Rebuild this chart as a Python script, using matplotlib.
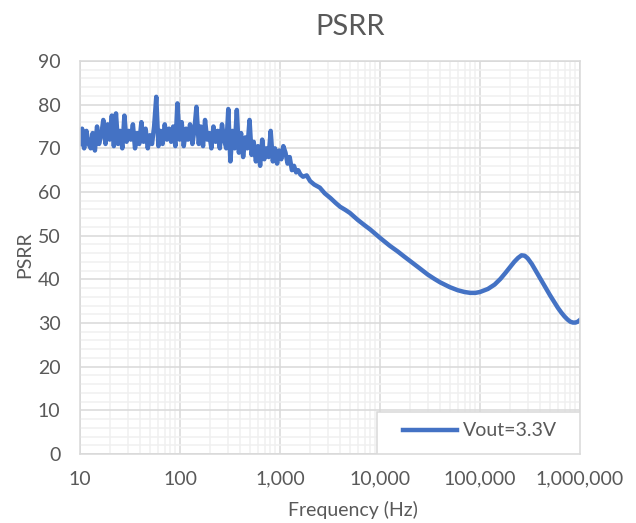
import matplotlib
matplotlib.use('Agg')
import matplotlib.pyplot as plt
from matplotlib import font_manager
from matplotlib.patches import Rectangle
from matplotlib.ticker import FixedLocator, MultipleLocator, FuncFormatter, NullFormatter

# data
freq_low = [10, 10.5, 11, 11.6, 12.2, 12.8, 13.4, 14.1, 14.8, 15.5, 16.3, 17.1, 18, 18.9, 19.8,
            20.8, 21.8, 22.9, 24, 25.2, 26.5, 27.8, 29.2, 30.7, 32.2, 33.8, 35.5, 37.3, 39.1,
            41.1, 43.2, 45.3, 47.6, 50, 52.5, 55.1, 57.9, 60.8, 63.8, 67, 70.4, 73.9, 77.6,
            81.5, 85.5, 89.8, 94.3, 99, 104, 109, 115, 120, 126, 133, 139, 146, 154, 161,
            170, 178, 187, 196, 206, 216, 227, 238, 250, 263, 276, 290, 304, 319, 335, 352,
            370, 388, 408, 428, 450, 472, 496, 520, 546, 574, 602, 633, 664, 697, 732, 769,
            807, 848, 890, 935, 981, 1030, 1080, 1135, 1190, 1250, 1315, 1380, 1450, 1520]
psrr_low = [71, 74.5, 70, 74, 71, 70, 73.5, 69.5, 75, 71, 73, 76.5, 71, 75.5, 72,
            77.5, 70.5, 78, 71, 74, 70, 77.5, 71.5, 74, 72, 75.5, 70, 73.5, 71,
            76, 71.5, 74.5, 70, 73, 71, 75, 81.8, 70.5, 74, 71, 75.5, 72, 74.5,
            71.5, 75, 70.5, 80.3, 72, 76, 70.5, 74.5, 72, 75.5, 71, 74, 79.5, 71, 75,
            70.5, 76.5, 72, 73.5, 70, 75, 71.5, 74, 70, 75.5, 72, 70, 79, 67, 74, 70,
            78.8, 69, 73.5, 68, 72.5, 70, 76.5, 68.5, 71.5, 67, 70.5, 66, 72, 67.5, 70, 68,
            74, 67, 70, 66.5, 69.5, 67.5, 70.5, 69, 66.5, 68, 65, 66, 64.5, 65]

freq_high = [1600, 1700, 1850, 2000, 2200, 2500, 2800, 3200, 3600, 4000, 4500, 5000, 6000,
             7000, 8000, 9000, 10000, 12500, 15000, 17500, 20000, 25000, 30000, 35000, 40000,
             50000, 60000, 70000, 80000, 90000, 100000, 120000, 140000, 160000, 180000,
             200000, 220000, 240000, 260000, 280000, 300000, 330000, 360000, 400000, 450000,
             500000, 550000, 600000, 650000, 700000, 750000, 800000, 850000, 900000, 950000,
             1000000]
psrr_high = [64, 63.5, 63.8, 62.5, 61.7, 61, 59.7, 58.6, 57.5, 56.6, 55.9, 55.2, 53.6,
             52.4, 51.4, 50.4, 49.5, 47.7, 46.4, 45.2, 44.2, 42.5, 41.1, 40.1, 39.3,
             38.2, 37.5, 37.1, 36.9, 36.9, 37.1, 37.8, 38.8, 40.1, 41.5,
             42.8, 44, 44.9, 45.5, 45.4, 44.8, 43.5, 42, 40.2, 38.2,
             36.4, 34.9, 33.5, 32.4, 31.5, 30.8, 30.3, 30.1, 30.1, 30.3,
             30.7]

freq = freq_low + freq_high
psrr = psrr_low + psrr_high

x_ticks = [10, 100, 1000, 10000, 100000, 1000000]
y_ticks = [0, 10, 20, 30, 40, 50, 60, 70, 80, 90]

names = {f.name for f in font_manager.fontManager.ttflist}
font = 'Lato' if 'Lato' in names else 'Liberation Sans'
plt.rcParams['font.family'] = [font, 'DejaVu Sans']

text_c = '#595959'
fs = 14
fig = plt.figure(figsize=(6.36, 5.23), dpi=100)
ax = fig.add_axes([80/636, 69/523, 500/636, 393/523])

ax.plot(freq, psrr, color='#4472C4', lw=3.2, label='Vout=3.3V', solid_joinstyle='round')

ax.set_xscale('log')
ax.set_xlim(10, 1e6)
ax.set_ylim(0, 90)
ax.xaxis.set_major_locator(FixedLocator(x_ticks))
ax.xaxis.set_major_formatter(FuncFormatter(lambda v, p: f'{int(round(v)):,}'))
ax.xaxis.set_minor_formatter(NullFormatter())
ax.yaxis.set_major_locator(FixedLocator(y_ticks))
ax.yaxis.set_minor_locator(MultipleLocator(2))

ax.grid(which='major', color='#d9d9d9', lw=1.1)
ax.grid(which='minor', color='#f0f0f0', lw=1.1)
ax.set_axisbelow(True)
for s in ax.spines.values():
    s.set_color('#d9d9d9')
    s.set_linewidth(1.1)

ax.tick_params(which='both', length=0, colors=text_c, labelsize=fs)
ax.tick_params(axis='x', pad=12)
ax.tick_params(axis='y', pad=14)

fig.text(350/636, 1 - 27/523, 'PSRR', ha='center', va='center', fontsize=21, color=text_c)
fig.text(353/636, 1 - 510/523, 'Frequency (Hz)', ha='center', va='center',
         fontsize=fs, color=text_c)
fig.text(25/636, 1 - 255/523, 'PSRR', ha='center', va='center', rotation=90,
         fontsize=fs, color=text_c)

# legend box in the lower right corner
box = Rectangle((297/500, 0), 203/500, 42/393, transform=ax.transAxes,
                facecolor='white', edgecolor='#d9d9d9', lw=1.1, zorder=3)
ax.add_patch(box)
leg = ax.legend(loc='center left', bbox_to_anchor=(323/500, 23/393), fontsize=fs,
                frameon=False, borderaxespad=0, borderpad=0, handlelength=2.8,
                handletextpad=0.3, labelcolor=text_c)
leg.set_zorder(4)

fig.savefig('out.png', dpi=100)
